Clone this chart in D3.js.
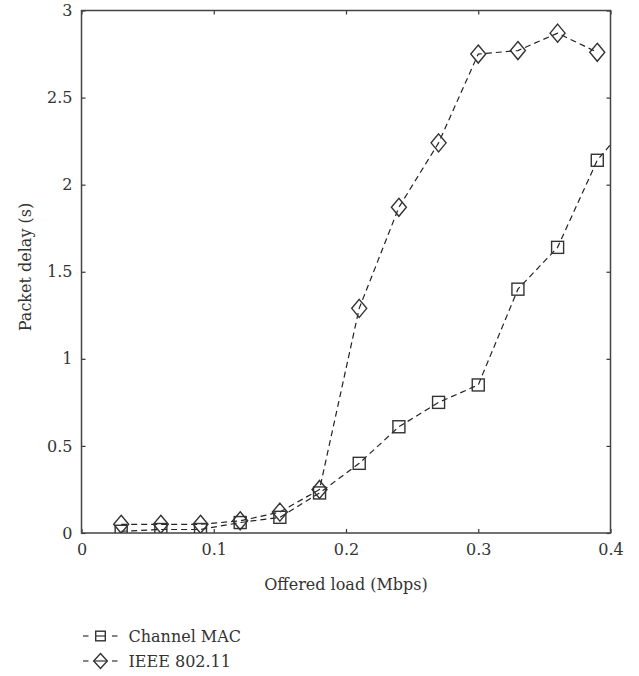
<!DOCTYPE html>
<html>
<head>
<meta charset="utf-8">
<script src="https://cdn.jsdelivr.net/npm/d3@7"></script>
<style>
  body { margin: 0; background: #fff; }
</style>
</head>
<body>
<div id="chart"></div>
<script>
// offered load (Mbps)
const loads = [0.03, 0.06, 0.09, 0.12, 0.15, 0.18, 0.21, 0.24, 0.27, 0.30, 0.33, 0.36, 0.39, 0.42];
// packet delay (s)
const channelMac = [0.01, 0.02, 0.02, 0.06, 0.09, 0.23, 0.40, 0.61, 0.75, 0.85, 1.40, 1.64, 2.14, 2.41];
const ieee80211 = [0.05, 0.05, 0.05, 0.07, 0.12, 0.25, 1.29, 1.87, 2.24, 2.75, 2.77, 2.87, 2.76];
const xTicks = [0, 0.1, 0.2, 0.3, 0.4];
const yTicks = [0, 0.5, 1, 1.5, 2, 2.5, 3];
const seriesNames = ["Channel MAC", "IEEE 802.11"];

const FONT = "'DejaVu Serif', 'Liberation Serif', serif";
const FS = 16;
const INK = "#333";

var margin = { top: 10.5, right: 28.5, bottom: 143, left: 81.5 },
  width = 639 - margin.left - margin.right,
  height = 676 - margin.top - margin.bottom;

var svg = d3.select("#chart")
  .append("svg")
  .attr("width", 639)
  .attr("height", 676)
  .attr("font-family", FONT);

var g = svg.append("g")
  .attr("transform", "translate(" + margin.left + "," + margin.top + ")");

var x = d3.scaleLinear().domain([0, 0.4]).range([0, width]);
var y = d3.scaleLinear().domain([0, 3]).range([height, 0]);

g.append("clipPath").attr("id", "clip")
  .append("rect").attr("width", width).attr("height", height);

// axes with inward ticks on all four sides
function styleAxis(sel) {
  sel.attr("font-family", FONT).attr("font-size", FS);
  sel.select(".domain").remove();
  sel.selectAll(".tick line").attr("stroke", INK).attr("stroke-width", 1.2);
  sel.selectAll("text").attr("fill", INK);
}
g.append("g")
  .attr("transform", "translate(0," + height + ")")
  .call(d3.axisBottom(x).tickValues(xTicks).tickSize(-4).tickPadding(11).tickFormat(d3.format("")))
  .call(styleAxis);
g.append("g")
  .call(d3.axisLeft(y).tickValues(yTicks).tickSize(-4).tickPadding(9).tickFormat(d3.format("")))
  .call(styleAxis);
g.append("g")
  .call(d3.axisTop(x).tickValues(xTicks).tickSize(-4).tickFormat(""))
  .call(styleAxis);
g.append("g")
  .attr("transform", "translate(" + width + ",0)")
  .call(d3.axisRight(y).tickValues(yTicks).tickSize(-4).tickFormat(""))
  .call(styleAxis);

// frame
g.append("rect")
  .attr("width", width).attr("height", height)
  .attr("fill", "none").attr("stroke", "#444").attr("stroke-width", 1.5);

var line = d3.line()
  .x(function (d) { return x(d[0]); })
  .y(function (d) { return y(d[1]); });

var plot = g.append("g").attr("clip-path", "url(#clip)");

var macPts = loads.map(function (l, i) { return [l, channelMac[i]]; });
var ieeePts = ieee80211.map(function (v, i) { return [loads[i], v]; });

[macPts, ieeePts].forEach(function (pts) {
  plot.append("path")
    .datum(pts)
    .attr("d", line)
    .attr("fill", "none")
    .attr("stroke", "#222")
    .attr("stroke-width", 1.2)
    .attr("stroke-dasharray", "6,4");
});

function square(sel, s) {
  sel.append("rect")
    .attr("x", -s).attr("y", -s).attr("width", 2 * s).attr("height", 2 * s)
    .attr("fill", "none").attr("stroke", INK).attr("stroke-width", 1.4);
}
function diamond(sel, w, h) {
  sel.append("path")
    .attr("d", "M0," + (-h) + "L" + w + ",0L0," + h + "L" + (-w) + ",0Z")
    .attr("fill", "none").attr("stroke", INK).attr("stroke-width", 1.4);
}

plot.selectAll(".sq")
  .data(macPts.filter(function (d) { return d[0] <= 0.4; }))
  .enter().append("g")
  .attr("transform", function (d) { return "translate(" + x(d[0]) + "," + y(d[1]) + ")"; })
  .each(function () { square(d3.select(this), 6); });

plot.selectAll(".dm")
  .data(ieeePts)
  .enter().append("g")
  .attr("transform", function (d) { return "translate(" + x(d[0]) + "," + y(d[1]) + ")"; })
  .each(function () { diamond(d3.select(this), 7.5, 9); });

// axis titles
svg.append("text")
  .attr("x", margin.left + width / 2)
  .attr("y", 590)
  .attr("text-anchor", "middle")
  .attr("font-size", FS)
  .attr("fill", INK)
  .text("Offered load (Mbps)");

svg.append("text")
  .attr("transform", "translate(31,267) rotate(-90)")
  .attr("text-anchor", "middle")
  .attr("font-size", FS)
  .attr("fill", INK)
  .text("Packet delay (s)");

// legend
var legend = svg.append("g");
seriesNames.forEach(function (name, i) {
  var ly = 636 + i * 25;
  var item = legend.append("g").attr("transform", "translate(100.5," + ly + ")");
  item.append("line").attr("x1", -17.5).attr("x2", -12).attr("stroke", INK).attr("stroke-width", 1.2);
  item.append("line").attr("x1", 11.5).attr("x2", 17).attr("stroke", INK).attr("stroke-width", 1.2);
  if (i === 0) {
    square(item, 4.8);
    item.append("line").attr("x1", -4.8).attr("x2", 4.8).attr("stroke", INK).attr("stroke-width", 1.2);
  } else {
    diamond(item, 6.8, 7.5);
    item.append("line").attr("x1", -6.8).attr("x2", 6.8).attr("stroke", INK).attr("stroke-width", 1.2);
  }
  item.append("text")
    .attr("x", 28).attr("y", 6)
    .attr("font-size", FS)
    .attr("fill", INK)
    .text(name);
});
</script>
</body>
</html>
